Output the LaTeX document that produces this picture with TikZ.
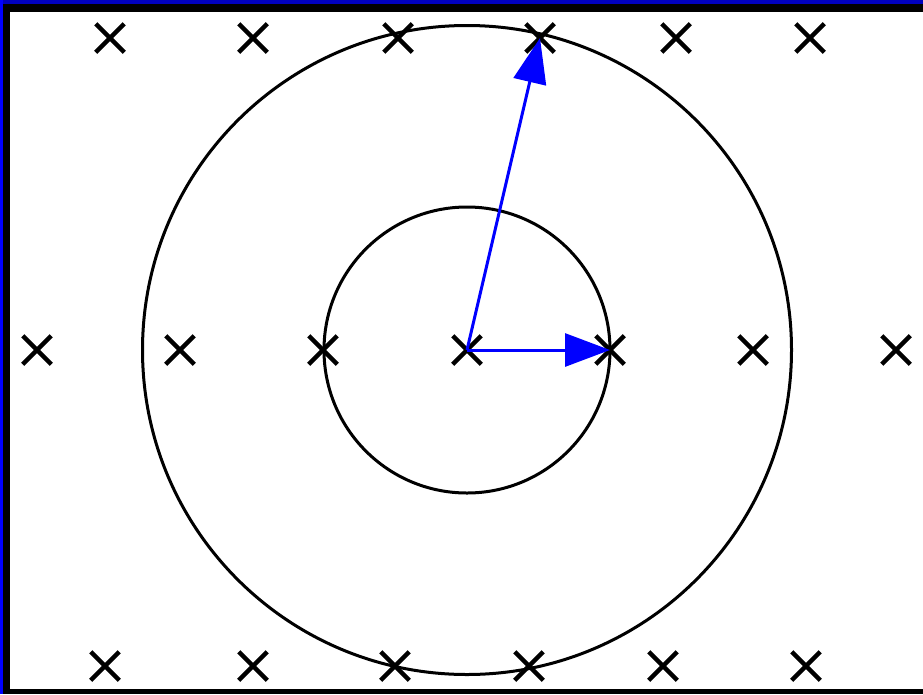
\documentclass[tikz,border=0pt]{standalone}
\usetikzlibrary{shapes.misc,arrows.meta}
\definecolor{topblue}{RGB}{0,0,190}
\definecolor{leftblue}{RGB}{0,0,255}
\begin{document}
\begin{tikzpicture}[x=1pt,y=-1pt,
  mark/.style={},
  xmark/.style={cross out,draw=black,line width=4.5pt,inner sep=0pt,minimum size=24pt},
  ring/.style={draw=black,line width=3pt},
  vec/.style={draw=blue,line width=3pt,-{Triangle[length=45pt,width=33pt]}}]
\useasboundingbox (0,0) rectangle (923,694);
\fill[white] (0,0) rectangle (923,694);
% frame
\fill[topblue] (0,0) rectangle (923,4);
\fill[leftblue] (0,0) rectangle (3,694);
\fill[black] (3,4) rectangle (923,12);
\fill[black] (3,4) rectangle (10,694);
\fill[black] (3,689) rectangle (923,694);
% circles
\coordinate (c) at (467,350);
\draw[ring] (c) circle[radius=143];
\draw[ring] (c) circle[radius=324.5];
% crosses
\foreach \x [count=\i] in {110,253,398,540,676,810}
  \node[xmark] (t\i) at (\x,38) {};
\foreach \x [count=\i] in {37,180,323,467,610,753,896}
  \node[xmark] (m\i) at (\x,350) {};
\foreach \x [count=\i] in {105,253,395,529,663,806}
  \node[xmark] (b\i) at (\x,666) {};
% vectors
\draw[vec] (m4.center) -- (m5.center);
\draw[vec] (m4.center) -- (t4.center);
\end{tikzpicture}
\end{document}
